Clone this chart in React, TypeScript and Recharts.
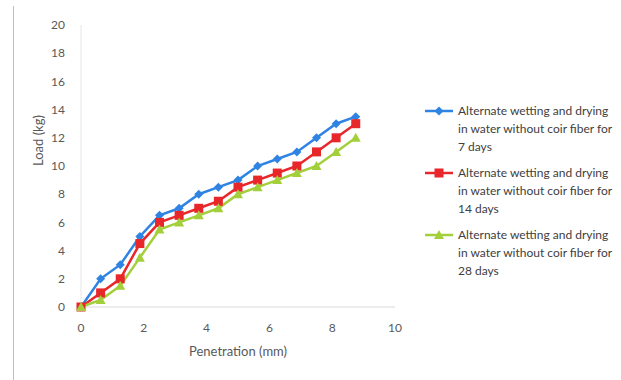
import { Line, LineChart, XAxis, YAxis } from 'recharts'

const penetration = [0, 0.625, 1.25, 1.875, 2.5, 3.125, 3.75, 4.375, 5, 5.625, 6.25, 6.875, 7.5, 8.125, 8.75]
const load7 = [0, 2, 3, 5, 6.5, 7, 8, 8.5, 9, 10, 10.5, 11, 12, 13, 13.5]
const load14 = [0, 1, 2, 4.5, 6, 6.5, 7, 7.5, 8.5, 9, 9.5, 10, 11, 12, 13]
const load28 = [0, 0.5, 1.5, 3.5, 5.5, 6, 6.5, 7, 8, 8.5, 9, 9.5, 10, 11, 12]
const xTicks = [0, 2, 4, 6, 8, 10]
const yTicks = [0, 2, 4, 6, 8, 10, 12, 14, 16, 18, 20]
const seriesNames = [
  'Alternate wetting and drying in water without coir fiber for 7 days',
  'Alternate wetting and drying in water without coir fiber for 14 days',
  'Alternate wetting and drying in water without coir fiber for 28 days',
]

const data = penetration.map((x, i) => ({ x, a: load7[i], b: load14[i], c: load28[i] }))

const BLUE = '#2f84e3'
const RED = '#e8272b'
const GREEN = '#a3d03a'
const colors = [BLUE, RED, GREEN]
const FONT = 'Lato, "Open Sans", sans-serif'

function Diamond({ cx, cy, fill }: any) {
  if (cx == null || cy == null) return null
  const r = 4.5
  return <path d={`M${cx},${cy - r}L${cx + r},${cy}L${cx},${cy + r}L${cx - r},${cy}Z`} fill={fill} />
}

function Square({ cx, cy, fill }: any) {
  if (cx == null || cy == null) return null
  return <rect fill={fill} height={9} width={9} x={cx - 4.5} y={cy - 4.5} />
}

function Triangle({ cx, cy, fill }: any) {
  if (cx == null || cy == null) return null
  return <path d={`M${cx},${cy - 5}L${cx + 5},${cy + 4}L${cx - 5},${cy + 4}Z`} fill={fill} />
}

const markers = [Diamond, Square, Triangle]

function LegendBox() {
  return (
    <div style={{ position: 'absolute', left: 424, top: 102, fontFamily: FONT, fontSize: 12, color: '#404040' }}>
      {seriesNames.map((name, i) => {
        const M = markers[i]
        return (
          <div key={name} style={{ display: 'flex', marginBottom: 8 }}>
            <svg height={18} style={{ flexShrink: 0 }} width={34}>
              <line stroke={colors[i]} strokeWidth={2.5} x1={1} x2={29} y1={9} y2={9} />
              <M cx={15} cy={9} fill={colors[i]} />
            </svg>
            <div style={{ width: 160, lineHeight: '18px' }}>{name}</div>
          </div>
        )
      })}
    </div>
  )
}

export default function App() {
  return (
    <div style={{ position: 'absolute', left: 0, top: 0, width: 621, height: 380, background: '#fff' }}>
      <div style={{ position: 'absolute', left: 13, top: 6, width: 1, height: 374, background: '#bfbfbf' }} />
      <LineChart data={data} height={380} margin={{ top: 25, right: 226, bottom: 0, left: 0 }} width={621}>
        <XAxis
          axisLine={{ stroke: '#d9d9d9' }}
          dataKey="x"
          domain={[0, 10]}
          height={73}
          label={{ value: 'Penetration (mm)', position: 'insideBottom', offset: 24, fill: '#595959', fontSize: 13, fontFamily: FONT }}
          tick={{ fill: '#595959', fontSize: 12, fontFamily: FONT }}
          tickLine={false}
          tickMargin={10}
          ticks={xTicks}
          type="number"
        />
        <YAxis
          axisLine={{ stroke: '#e6e6e6' }}
          domain={[0, 20]}
          label={{ value: 'Load (kg)', angle: -90, position: 'insideLeft', offset: 38, fill: '#595959', fontSize: 13, fontFamily: FONT }}
          tick={{ fill: '#595959', fontSize: 12, fontFamily: FONT }}
          tickLine={false}
          tickMargin={10}
          ticks={yTicks}
          width={81}
        />
        <Line dataKey="a" dot={<Diamond />} fill={BLUE} isAnimationActive={false} name={seriesNames[0]} stroke={BLUE} strokeWidth={2.5} type="linear" />
        <Line dataKey="b" dot={<Square />} fill={RED} isAnimationActive={false} name={seriesNames[1]} stroke={RED} strokeWidth={2.5} type="linear" />
        <Line dataKey="c" dot={<Triangle />} fill={GREEN} isAnimationActive={false} name={seriesNames[2]} stroke={GREEN} strokeWidth={2.5} type="linear" />
      </LineChart>
      <LegendBox />
    </div>
  )
}
